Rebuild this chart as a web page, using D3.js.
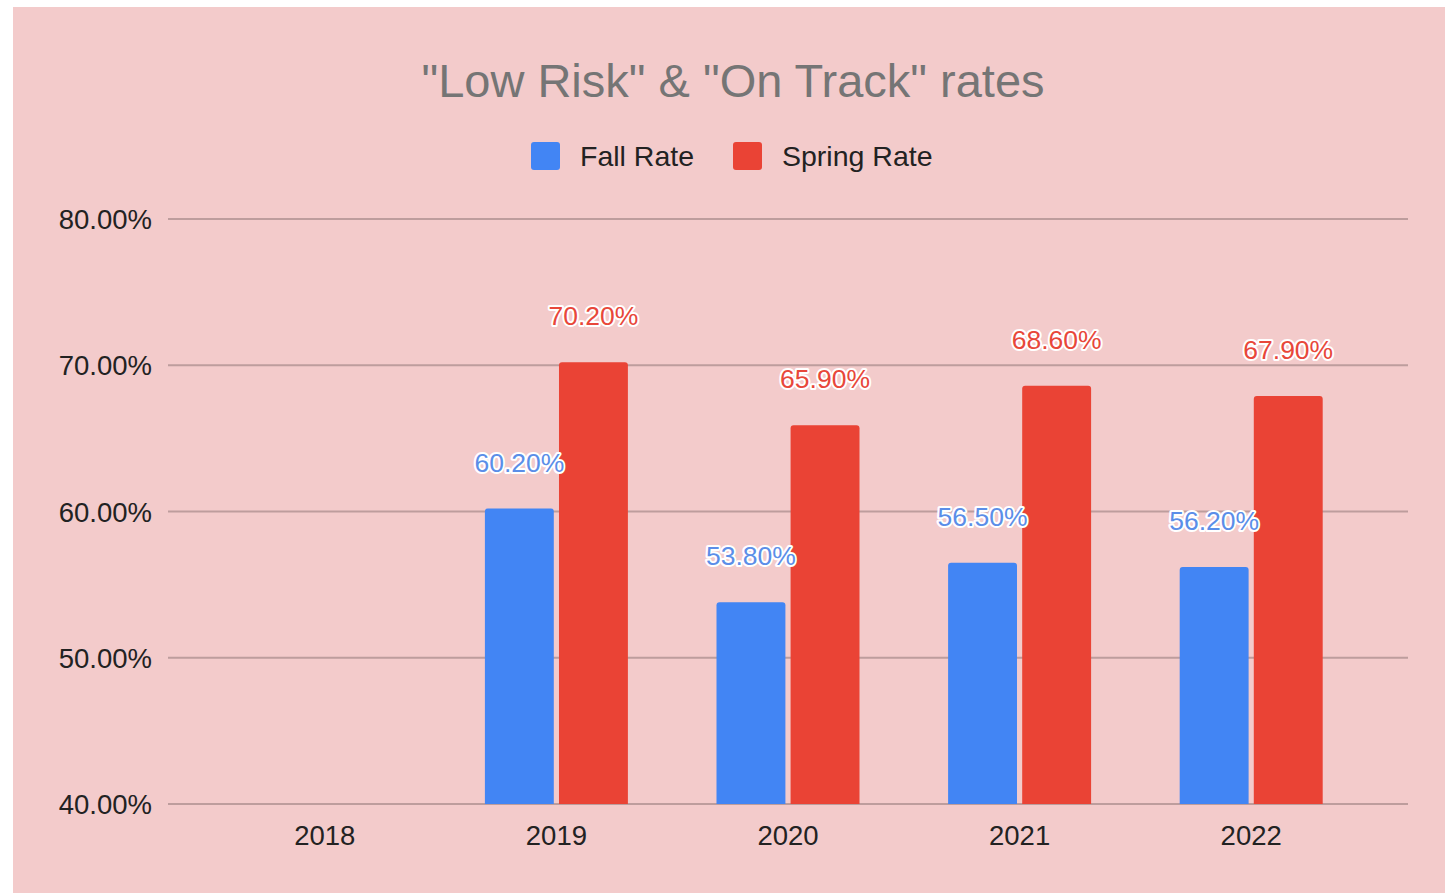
<!DOCTYPE html>
<html lang="en">
<head>
<meta charset="utf-8">
<style type="text/css">
body { margin: 0; background: #fff; }
svg { display: block; font-family: "Liberation Sans", Arial, sans-serif; }
.grid line { stroke: #bd9d9d; stroke-width: 2px; }
.label { paint-order: stroke; stroke: #fff; stroke-width: 4px; stroke-linejoin: round; }
</style>
</head>
<body>
<svg width="1445" height="893"></svg>
<script src="https://d3js.org/d3.v7.min.js"></script>
<script type="text/javascript">
var years = ["2018", "2019", "2020", "2021", "2022"];
var fallRate = [null, 60.2, 53.8, 56.5, 56.2];
var springRate = [null, 70.2, 65.9, 68.6, 67.9];
var seriesNames = ["Fall Rate", "Spring Rate"];
var yTicks = [40, 50, 60, 70, 80];

var colors = ["#4285f4", "#ea4335"];
var labelColors = ["#5b8ee8", "#e8473a"];

var svg = d3.select("svg");

svg.append("rect")
    .attr("x", 13).attr("y", 7)
    .attr("width", 1432).attr("height", 886)
    .attr("fill", "#f3cbcb");

var x = d3.scaleBand().domain(years).range([209, 1367]);
var y = d3.scaleLinear().domain([40, 80]).range([804, 219]);
var inner = d3.scaleBand().domain([0, 1]).range([0, 143]).paddingInner(0.07);

// title
svg.append("text")
    .attr("x", 733).attr("y", 97)
    .attr("text-anchor", "middle")
    .attr("font-size", 47)
    .attr("fill", "#757575")
    .text('"Low Risk" & "On Track" rates');

// legend
var legendX = [531, 733];
var leg = svg.selectAll(".leg")
    .data(seriesNames)
    .enter().append("g")
    .attr("class", "leg")
    .attr("transform", function (d, i) { return "translate(" + legendX[i] + ",142)"; });
leg.append("rect")
    .attr("width", 29).attr("height", 28)
    .attr("rx", 3)
    .attr("fill", function (d, i) { return colors[i]; });
leg.append("text")
    .attr("x", 49).attr("y", 24)
    .attr("font-size", 28.5)
    .attr("fill", "#222")
    .text(function (d) { return d; });

// grid + y labels
var grid = svg.append("g").attr("class", "grid");
grid.selectAll("line")
    .data(yTicks)
    .enter().append("line")
    .attr("x1", 168).attr("x2", 1408)
    .attr("y1", function (d) { return y(d); })
    .attr("y2", function (d) { return y(d); });

svg.selectAll(".ytick")
    .data(yTicks)
    .enter().append("text")
    .attr("class", "ytick")
    .attr("x", 152)
    .attr("y", function (d) { return y(d) + 10; })
    .attr("text-anchor", "end")
    .attr("font-size", 27.5)
    .attr("fill", "#222")
    .text(function (d) { return d.toFixed(2) + "%"; });

// x labels
svg.selectAll(".xtick")
    .data(years)
    .enter().append("text")
    .attr("class", "xtick")
    .attr("x", function (d) { return x(d) + x.bandwidth() / 2; })
    .attr("y", 845)
    .attr("text-anchor", "middle")
    .attr("font-size", 27.5)
    .attr("fill", "#222")
    .text(function (d) { return d; });

// bars
var rows = [];
years.forEach(function (yr, i) {
    [fallRate[i], springRate[i]].forEach(function (v, s) {
        if (v !== null) rows.push({ year: yr, s: s, v: v });
    });
});

function barX(d) {
    return x(d.year) + (x.bandwidth() - 143) / 2 + inner(d.s);
}

svg.selectAll(".bar")
    .data(rows)
    .enter().append("path")
    .attr("class", "bar")
    .attr("fill", function (d) { return colors[d.s]; })
    .attr("d", function (d) {
        var x0 = barX(d), w = inner.bandwidth(), t = y(d.v), b = y(40), r = 3;
        return "M" + x0 + "," + b + "V" + (t + r) + "Q" + x0 + "," + t + " " + (x0 + r) + "," + t +
            "H" + (x0 + w - r) + "Q" + (x0 + w) + "," + t + " " + (x0 + w) + "," + (t + r) + "V" + b + "Z";
    });

svg.selectAll(".label")
    .data(rows)
    .enter().append("text")
    .attr("class", "label")
    .attr("x", function (d) { return barX(d) + inner.bandwidth() / 2; })
    .attr("y", function (d) { return y(d.v) - 37; })
    .attr("text-anchor", "middle")
    .attr("font-size", 26.5)
    .attr("fill", function (d) { return labelColors[d.s]; })
    .text(function (d) { return d.v.toFixed(2) + "%"; });
</script>
</body>
</html>
